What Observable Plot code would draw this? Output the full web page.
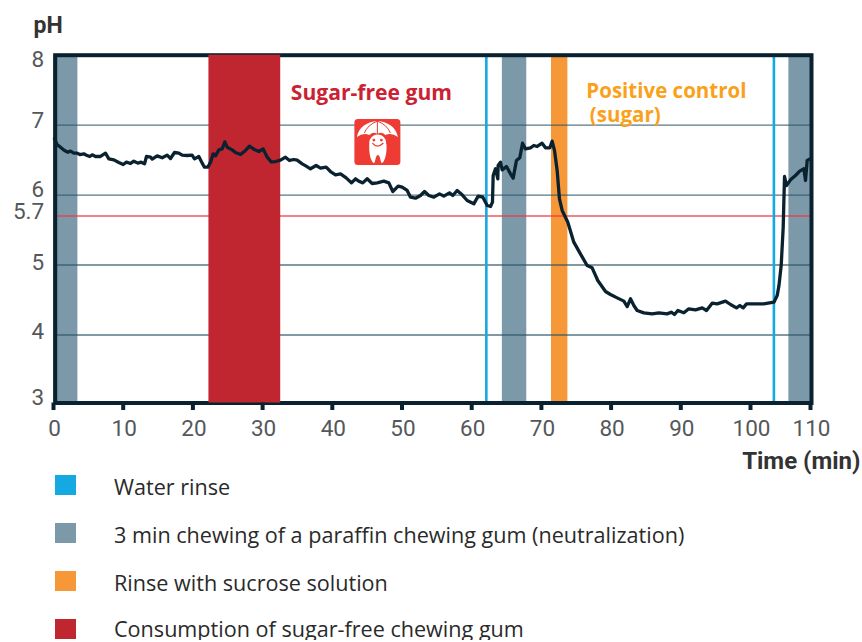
<!DOCTYPE html>
<html><head><meta charset="utf-8">
<script src="https://cdn.jsdelivr.net/npm/d3@7"></script>
<script src="https://cdn.jsdelivr.net/npm/@observablehq/plot@0.6"></script>
<style>
html,body{margin:0;padding:0;background:#fff;overflow:hidden}
#legend{font-family:"Open Sans",sans-serif;font-size:21.6px;color:#2a2a2a}
.row{position:relative;height:22px;margin-bottom:26px;line-height:22px;white-space:nowrap}
.row:last-child{margin-bottom:0}
.sw{position:absolute;left:54.5px;top:1px;width:21px;height:20px}
.lb{position:absolute;left:114px;top:2px}
.row:last-child .lb{top:0}
svg{display:block}
</style></head><body><div id="chart"></div><div id="legend"></div>
<script>
const minutes = [0.14,0.53,1,1.58,2.06,2.44,2.92,3.4,3.78,4.35,4.73,5.21,5.55,6.03,6.74,7.46,7.94,8.66,9.37,10,10.47,11.05,11.53,12.1,12.58,13.06,13.34,13.92,14.16,14.87,15.59,16.31,16.79,17.36,17.98,18.46,19.18,19.89,20.23,20.85,21.33,21.66,22.14,22.53,22.91,23.24,23.72,24.2,24.58,24.92,25.63,26.11,26.83,27.55,28.12,28.74,29.46,30.08,30.66,31.23,31.85,32.57,33.28,33.86,34.48,34.96,35.68,36.25,36.87,37.68,38.31,39.12,39.74,40.46,41.18,41.99,42.75,43.33,43.9,44.38,45,45.72,46.44,47.39,48.11,48.68,49.45,50.02,50.74,51.22,51.94,52.65,53.23,53.85,54.57,55.38,56,56.81,57.29,57.91,58.63,59.35,60.3,60.93,61.6,62.22,62.7,62.98,63.08,63.41,63.75,63.79,64.13,64.37,64.99,65.56,65.95,66.42,66.9,67.29,67.72,68.43,68.91,69.39,70.1,70.59,71.21,71.54,71.88,72.26,72.59,72.98,73.79,74.65,75.6,76.56,77.28,78.09,79.2,79.91,80.87,81.83,82.31,82.78,83.26,83.74,84.7,85.89,86.85,88.04,88.62,89.1,89.58,90.44,91.15,92.11,93.07,93.69,94.5,95.22,96.41,97.13,97.99,98.47,98.95,99.43,100.55,102.2,103.9,104.45,104.75,105.12,105.45,105.67,106,106.67,107.5,108.2,108.9,109.17,109.45,110];
const pHValues = [6.804,6.72,6.685,6.638,6.614,6.628,6.599,6.599,6.58,6.59,6.571,6.552,6.576,6.552,6.552,6.599,6.518,6.504,6.466,6.437,6.471,6.452,6.485,6.457,6.471,6.447,6.552,6.542,6.514,6.561,6.533,6.571,6.523,6.609,6.599,6.571,6.566,6.571,6.518,6.552,6.457,6.399,6.399,6.471,6.59,6.561,6.647,6.661,6.761,6.685,6.647,6.609,6.58,6.638,6.7,6.657,6.623,6.661,6.542,6.476,6.48,6.499,6.542,6.495,6.509,6.499,6.447,6.414,6.376,6.423,6.385,6.399,6.337,6.29,6.304,6.247,6.175,6.233,6.194,6.175,6.233,6.166,6.175,6.199,6.175,6.051,6.128,6.113,6.066,5.97,5.956,5.994,6.051,5.994,5.97,6.018,5.985,6.032,5.994,6.066,6.004,5.923,5.875,5.985,5.97,5.851,5.837,5.9,6.28,6.376,6.232,6.423,6.471,6.361,6.409,6.304,6.242,6.495,6.533,6.742,6.661,6.676,6.709,6.695,6.742,6.676,6.676,6.771,6.638,6.352,5.946,5.78,5.613,5.327,5.16,4.993,4.96,4.779,4.622,4.579,4.531,4.484,4.407,4.517,4.422,4.35,4.317,4.302,4.317,4.302,4.326,4.293,4.35,4.317,4.374,4.36,4.388,4.35,4.455,4.445,4.484,4.436,4.388,4.422,4.388,4.445,4.445,4.445,4.469,4.565,4.71,5,5.54,6.266,6.137,6.218,6.28,6.342,6.376,6.209,6.495,6.519];
const xTicks = [0,10,20,30,40,50,60,70,80,90,100,110];
const yLabels = [8,7,6,5.7,5,4,3];
const gridValues = [4,5,6,7];
const thresholdPH = 5.7;
const waterRinses = [62.1,103.9];
const paraffinStart = [0,64.4,106.4];
const paraffinEnd = [3.5,67.9,110];
const sucroseStart = [71.45];
const sucroseEnd = [73.8];
const gumStart = [22.3];
const gumEnd = [32.6];
const legendLabels = ["Water rinse","3 min chewing of a paraffin chewing gum (neutralization)","Rinse with sucrose solution","Consumption of sugar-free chewing gum"];

const BLUE="#15a9e1",GRAY="#7b99a8",ORANGE="#f79838",RED="#bf2630",DARK="#0a2230",TICKTXT="#54585b";
const spans=(s,e)=>s.map((d,i)=>({start:d,end:e[i]}));
const line=minutes.map((m,i)=>({m,ph:pHValues[i]}));
const F="Roboto, sans-serif", M='"Open Sans", sans-serif';
const yDy={8:5,7:-4,6:-5,5.7:-4.5,5:-2,4:-3,3:-5.5};

function icon(index,{x,y}){
  const g=d3.create("svg:g").attr("transform",`translate(${x(43.24)},${y(7.08)})`);
  g.append("rect").attr("width",46).attr("height",46).attr("rx",3.5).attr("fill","#ee3b33");
  g.append("path").attr("fill","#fff").attr("d","M2.5 18C4 9 12 2.5 23 2C34 2.5 42 9 43.5 18Q37 13 31 16Q27 12 23 15Q19 12 15 16Q9 13 2.5 18Z");
  g.append("path").attr("fill","none").attr("stroke","#ee3b33").attr("stroke-width",1).attr("d","M23 2Q13 6 10 14M23 2Q33 6 36 14M23 2V15");
  g.append("circle").attr("cx",23.3).attr("cy",24).attr("r",8.5).attr("fill","#fff");
  g.append("path").attr("fill","#fff").attr("d","M15 25C14 34 17 44 19.5 44C21 44 21 36 23.5 36C26 36 26 44 27.5 44C30 44 33 34 32 25Z");
  g.append("circle").attr("cx",19.5).attr("cy",21).attr("r",1.4).attr("fill","#ee3b33");
  g.append("circle").attr("cx",27).attr("cy",21).attr("r",1.4).attr("fill","#ee3b33");
  g.append("path").attr("fill","none").attr("stroke","#ee3b33").attr("stroke-width",1.3).attr("d","M18 24Q23 30 29 24");
  return g.node();
}

const chart=Plot.plot({
  width:862,height:474,
  marginLeft:54.7,marginRight:51,marginTop:54.7,marginBottom:71.5,
  style:{background:"transparent",fontFamily:F,overflow:"visible"},
  x:{type:"linear",domain:[0,100,110],range:[53,750,810]},
  y:{type:"linear",domain:[3,4,8],range:[402.5,334.5,54.7]},
  marks:[
    Plot.rect(spans(paraffinStart,paraffinEnd),{x1:"start",x2:"end",y1:3,y2:8,fill:GRAY}),
    Plot.rect(spans(sucroseStart,sucroseEnd),{x1:"start",x2:"end",y1:3,y2:8,fill:ORANGE}),
    Plot.ruleY(gridValues,{stroke:"#2c5566",strokeOpacity:.8,strokeWidth:1.4}),
    Plot.ruleY([thresholdPH],{stroke:"#ee3a45",strokeOpacity:.85,strokeWidth:1.5}),
    Plot.ruleX(waterRinses,{y1:3,y2:8,stroke:BLUE,strokeWidth:2.6}),
    Plot.frame({stroke:DARK,strokeWidth:4}),
    Plot.rect(spans(gumStart,gumEnd),{x1:"start",x2:"end",y1:3,y2:8,fill:RED}),
    Plot.line(line,{x:"m",y:"ph",stroke:DARK,strokeWidth:3.3,strokeLinejoin:"round",curve:"linear"}),
    Plot.axisX({ticks:xTicks,tickSize:7.5,strokeWidth:4,stroke:DARK,label:null,text:null}),
    Plot.axisX({ticks:xTicks,tickSize:0,tickPadding:17,label:null,fontSize:22.5,fill:TICKTXT,dx:1,tickFormat:d=>String(d)}),
    ...yLabels.map(v=>Plot.axisY({ticks:[v],tickSize:0,tickPadding:11,label:null,fontSize:22.5,fill:TICKTXT,dy:yDy[v],tickFormat:d=>String(d)})),
    Plot.text(["pH"],{x:0,y:8,text:d=>d,textAnchor:"start",dx:-20,dy:-30,fontSize:23,fontWeight:700,fill:"#333"}),
    Plot.text(["Time (min)"],{x:110,y:3,text:d=>d,textAnchor:"end",dx:50,dy:58.5,fontSize:24,fontWeight:700,fill:"#333"}),
    Plot.text(["Sugar-free gum"],{x:34.05,y:7.45,text:d=>d,textAnchor:"start",fontFamily:M,fontSize:21.1,fontWeight:700,fill:"#cb2131"}),
    Plot.text(["Positive control"],{x:76.45,y:7.485,text:d=>d,textAnchor:"start",fontFamily:M,fontSize:20.5,fontWeight:700,fill:"#f9a11b"}),
    Plot.text(["(sugar)"],{x:76.95,y:7.145,text:d=>d,textAnchor:"start",fontFamily:M,fontSize:20.5,fontWeight:700,fill:"#f9a11b"}),
    icon
  ]
});
document.getElementById("chart").append(chart);
const legendColors=[BLUE,GRAY,ORANGE,RED];
const lg=d3.select("#legend").style("padding-top","0px");
legendLabels.forEach((t,i)=>{
  const r=lg.append("div").attr("class","row");
  r.append("div").attr("class","sw").style("background",legendColors[i]);
  r.append("div").attr("class","lb").text(t);
});
</script></body></html>
